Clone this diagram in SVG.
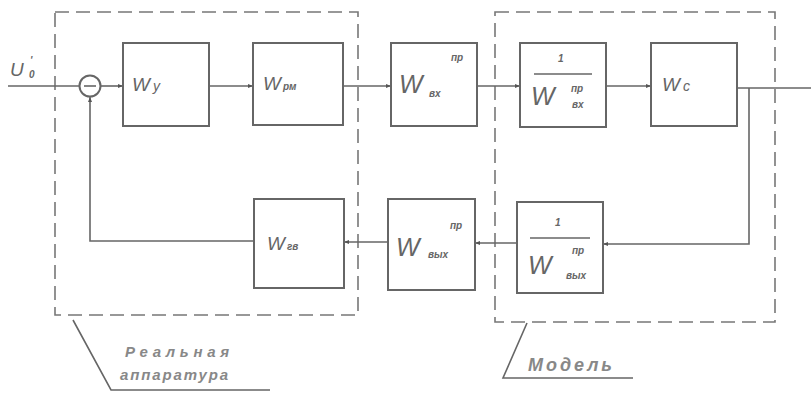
<svg xmlns="http://www.w3.org/2000/svg" width="811" height="397" viewBox="0 0 811 397">
<defs>
<marker id="arr" viewBox="0 0 10 10" refX="10" refY="5" markerWidth="7" markerHeight="5" orient="auto" markerUnits="userSpaceOnUse">
<path d="M0,1 L10,5 L0,9 z" fill="#555"/>
</marker>
</defs>
<style>
.box{fill:none;stroke:#666;stroke-width:2}
.ln{fill:none;stroke:#666;stroke-width:1.6}
.dash{fill:none;stroke:#777;stroke-width:1.6;stroke-dasharray:14 7}
.t{font-family:"Liberation Sans",Arial,sans-serif;font-style:italic;fill:#666}
.big{font-size:25px}
.mid{font-size:19px}
.sm{font-size:10px;font-weight:bold}
.lab{font-family:"Liberation Sans",Arial,sans-serif;font-style:italic;font-size:15px;font-weight:bold;fill:#888}
</style>
<rect width="811" height="397" fill="#ffffff"/>

<g id="regions">
<rect class="dash" x="55" y="12" width="303" height="303"/>
<rect class="dash" x="495" y="12" width="280" height="310"/>
</g>

<g id="connectors">
<line class="ln" x1="8" y1="86" x2="79" y2="86"/>
<line class="ln" x1="100" y1="86" x2="123" y2="86" marker-end="url(#arr)"/>
<line class="ln" x1="209" y1="86" x2="253" y2="86" marker-end="url(#arr)"/>
<line class="ln" x1="343" y1="86" x2="391" y2="86" marker-end="url(#arr)"/>
<line class="ln" x1="477" y1="86" x2="520" y2="86" marker-end="url(#arr)"/>
<line class="ln" x1="606" y1="86" x2="651" y2="86" marker-end="url(#arr)"/>
<line class="ln" x1="737" y1="88" x2="811" y2="88"/>
<polyline class="ln" points="749,88 749,244 603,244" marker-end="url(#arr)"/>
<line class="ln" x1="517" y1="243" x2="475" y2="243" marker-end="url(#arr)"/>
<line class="ln" x1="388" y1="242" x2="344" y2="242" marker-end="url(#arr)"/>
<polyline class="ln" points="254,241 90,241 90,97" marker-end="url(#arr)"/>
<polyline class="ln" points="73,320 111,390 270,390"/>
<polyline class="ln" points="527,323 503,378 633,378"/>
</g>

<g id="sum">
<circle cx="90" cy="86" r="10.5" fill="none" stroke="#666" stroke-width="2"/>
<line class="ln" x1="84" y1="86" x2="96" y2="86"/>
</g>

<g id="input-label">
<text class="t mid" x="10" y="76">U</text>
<text class="t sm" x="30" y="64">'</text>
<text class="t sm" x="29" y="78">0</text>
</g>

<g id="Wy">
<rect class="box" x="123" y="43" width="86" height="83"/>
<text class="t mid" x="132" y="91">W<tspan font-size="14" dx="3">y</tspan></text>
</g>

<g id="Wpm">
<rect class="box" x="253" y="43" width="90" height="82"/>
<text class="t mid" x="263" y="90">W<tspan class="sm" dx="2">рм</tspan></text>
</g>

<g id="Wvx">
<rect class="box" x="391" y="43" width="86" height="83"/>
<text class="t big" x="399" y="93">W</text>
<text class="t sm" x="451" y="61">пр</text>
<text class="t sm" x="429" y="97">вх</text>
</g>

<g id="invWvx">
<rect class="box" x="520" y="43" width="86" height="84"/>
<text class="t sm" x="558" y="62">1</text>
<line class="ln" x1="534" y1="74" x2="592" y2="74"/>
<text class="t big" x="531" y="105">W</text>
<text class="t sm" x="571" y="92">пр</text>
<text class="t sm" x="572" y="108">вх</text>
</g>

<g id="Wc">
<rect class="box" x="651" y="43" width="86" height="83"/>
<text class="t mid" x="662" y="91">W<tspan font-size="14" dx="3">с</tspan></text>
</g>

<g id="Wgv">
<rect class="box" x="254" y="199" width="90" height="89"/>
<text class="t mid" x="267" y="250">W<tspan class="sm" dx="2">гв</tspan></text>
</g>

<g id="Wvyx">
<rect class="box" x="388" y="199" width="87" height="91"/>
<text class="t big" x="396" y="256">W</text>
<text class="t sm" x="450" y="229">пр</text>
<text class="t sm" x="428" y="258">вых</text>
</g>

<g id="invWvyx">
<rect class="box" x="517" y="202" width="86" height="91"/>
<text class="t sm" x="555" y="226">1</text>
<line class="ln" x1="530" y1="238" x2="590" y2="238"/>
<text class="t big" x="528" y="274">W</text>
<text class="t sm" x="572" y="254">пр</text>
<text class="t sm" x="566" y="279">вых</text>
</g>

<g id="labels">
<text class="lab" x="125" y="357" textLength="104" lengthAdjust="spacing">Реальная</text>
<text class="lab" x="120" y="380" textLength="108" lengthAdjust="spacing">аппаратура</text>
<text class="lab" x="528" y="371" style="font-size:18px" textLength="84" lengthAdjust="spacing">Модель</text>
</g>
</svg>
